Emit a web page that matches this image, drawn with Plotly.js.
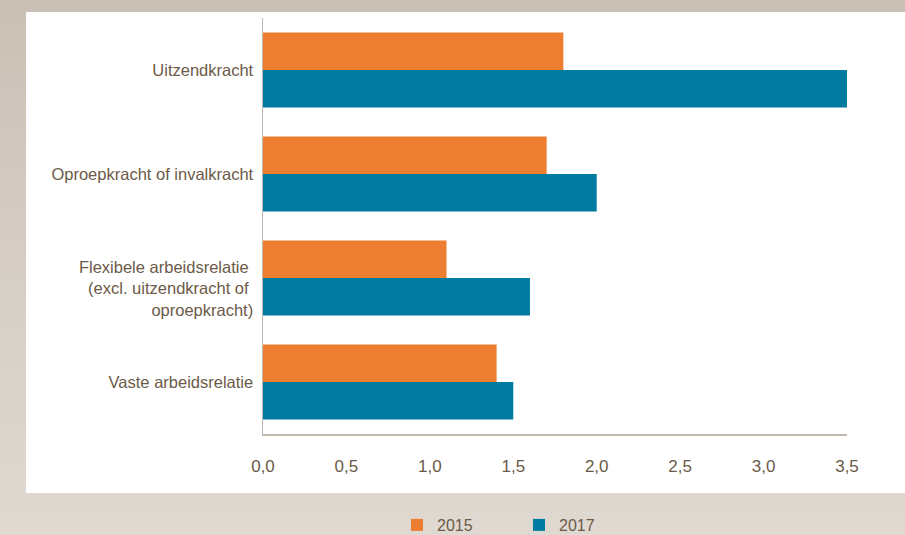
<!DOCTYPE html>
<html>
<head>
<meta charset="utf-8">
<script src="https://cdn.plot.ly/plotly-3.0.1.min.js"></script>
<style>
  html, body { margin: 0; padding: 0; }
  body { width: 905px; height: 535px; overflow: hidden;
         background: linear-gradient(to bottom, #C9C0B5 0%, #D6CEC6 50%, #DFD9D2 100%); }
  #chart { width: 905px; height: 535px; }
</style>
</head>
<body>
<div id="chart"></div>
<script>
// Data
const categories = [
  'Uitzendkracht',
  'Oproepkracht of invalkracht',
  '\u00A0<br>Flexibele arbeidsrelatie\u00A0<br>(excl. uitzendkracht of\u00A0<br>oproepkracht)',
  'Vaste arbeidsrelatie'
];
const series2015 = [1.8, 1.7, 1.1, 1.4];
const series2017 = [3.5, 2.0, 1.6, 1.5];
const seriesNames = ['2015', '2017'];
const xTickValues = [0, 0.5, 1.0, 1.5, 2.0, 2.5, 3.0, 3.5];

const textColor = '#6B5A48';
const fontFam = '"Liberation Sans", Arial, sans-serif';

const traces = [
  { type: 'bar', orientation: 'h', name: seriesNames[0], y: categories, x: series2015,
    marker: { color: '#EC7D31' }, hoverinfo: 'x' },
  { type: 'bar', orientation: 'h', name: seriesNames[1], y: categories, x: series2017,
    marker: { color: '#017BA0' }, hoverinfo: 'x' }
];

// plot area: x 263..847, y 18..434
const L = 263, R = 847, T = 18, B = 434;
const px = v => (v - L) / (R - L);
const py = v => (B - v) / (B - T);

const layout = {
  width: 905, height: 535,
  margin: { l: L, r: 905 - R, t: T, b: 535 - B, pad: 0, autoexpand: false },
  paper_bgcolor: 'rgba(0,0,0,0)',
  plot_bgcolor: 'rgba(0,0,0,0)',
  separators: ', ',
  barmode: 'group',
  bargap: 0.28,
  bargroupgap: 0,
  font: { family: fontFam, color: textColor, size: 16 },
  showlegend: true,
  legend: {
    orientation: 'h', x: px(397), xanchor: 'left', y: py(525), yanchor: 'middle',
    font: { size: 16, color: textColor, family: fontFam },
    entrywidth: 77, entrywidthmode: 'pixels', bgcolor: 'rgba(0,0,0,0)'
  },
  xaxis: {
    range: [0, 3.5], tickvals: xTickValues, tickformat: '.1f',
    showgrid: false, zeroline: false,
    showline: true, linecolor: '#C2B8AD', linewidth: 1.5,
    ticks: '', ticklabelstandoff: 16,
    tickfont: { size: 17, color: textColor, family: fontFam },
    fixedrange: true
  },
  yaxis: {
    range: [3.5, -0.5], type: 'category',
    showgrid: false, zeroline: false,
    showline: true, linecolor: '#C2B8AD', linewidth: 1.5,
    ticks: '', ticklabelstandoff: 5,
    tickfont: { size: 16.5, color: textColor, family: fontFam },
    fixedrange: true
  },
  shapes: [
    { type: 'rect', xref: 'paper', yref: 'paper', layer: 'below',
      x0: px(26), x1: px(905), y0: py(493), y1: py(12),
      fillcolor: '#FFFFFF', line: { width: 0 } }
  ]
};

Plotly.newPlot('chart', traces, layout, { displayModeBar: false, staticPlot: true });
</script>
</body>
</html>
